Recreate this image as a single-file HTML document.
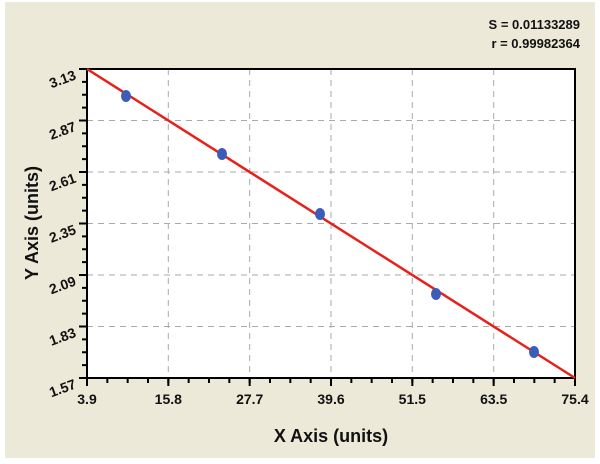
<!DOCTYPE html>
<html><head><style>
body{margin:0;background:#fff;}
svg{display:block;font-family:"Liberation Sans",Arial,sans-serif;font-weight:bold;}
</style></head><body>
<svg width="600" height="464" xmlns="http://www.w3.org/2000/svg">
<rect x="5" y="2" width="590" height="456" fill="#ECE9D8"/>
<rect x="87" y="69" width="488" height="309" fill="#fff"/>
<g stroke="#aaa" stroke-width="1" stroke-dasharray="6,5">
<line x1="168.3" y1="69" x2="168.3" y2="378"/>
<line x1="249.7" y1="69" x2="249.7" y2="378"/>
<line x1="331" y1="69" x2="331" y2="378"/>
<line x1="412.3" y1="69" x2="412.3" y2="378"/>
<line x1="493.7" y1="69" x2="493.7" y2="378"/>
<line x1="87" y1="120.5" x2="575" y2="120.5"/>
<line x1="87" y1="172" x2="575" y2="172"/>
<line x1="87" y1="223.5" x2="575" y2="223.5"/>
<line x1="87" y1="275" x2="575" y2="275"/>
<line x1="87" y1="326.5" x2="575" y2="326.5"/>
</g>
<rect x="87" y="69" width="488" height="309" fill="none" stroke="#000" stroke-width="2"/>
<!-- x ticks -->
<line x1="86" y1="380.5" x2="578" y2="380.5" stroke="#000" stroke-width="5" stroke-dasharray="2 18.333"/>
<line x1="86" y1="382" x2="578" y2="382" stroke="#000" stroke-width="8" stroke-dasharray="2 79.333"/>
<!-- y ticks -->
<line x1="84.5" y1="68" x2="84.5" y2="381" stroke="#000" stroke-width="5" stroke-dasharray="2 10.875"/>
<line x1="83" y1="68" x2="83" y2="381" stroke="#000" stroke-width="8" stroke-dasharray="2 49.5"/>
<g font-size="14" fill="#111" text-anchor="middle">
<text x="87" y="404">3.9</text><text x="168.3" y="404">15.8</text><text x="249.7" y="404">27.7</text>
<text x="331" y="404">39.6</text><text x="412.3" y="404">51.5</text><text x="493.7" y="404">63.5</text><text x="575" y="404">75.4</text>
</g>
<g font-size="14" fill="#111" text-anchor="end">
<text transform="translate(77,79) rotate(-20)">3.13</text>
<text transform="translate(77,130.5) rotate(-20)">2.87</text>
<text transform="translate(77,182) rotate(-20)">2.61</text>
<text transform="translate(77,233.5) rotate(-20)">2.35</text>
<text transform="translate(77,285) rotate(-20)">2.09</text>
<text transform="translate(77,336.5) rotate(-20)">1.83</text>
<text transform="translate(77,388) rotate(-20)">1.57</text>
</g>
<text x="331" y="442" font-size="18" text-anchor="middle" fill="#111">X Axis (units)</text>
<text transform="translate(38,223) rotate(-90)" font-size="18" text-anchor="middle" fill="#111">Y Axis (units)</text>
<text x="580" y="29" font-size="13" text-anchor="end" fill="#111">S = 0.01133289</text>
<text x="580" y="48" font-size="13" text-anchor="end" fill="#111">r = 0.99982364</text>
<line x1="87" y1="69" x2="575" y2="378" stroke="#e8201a" stroke-width="2.5"/>
<g fill="#3b5cb8">
<ellipse cx="126" cy="96" rx="5" ry="6"/><ellipse cx="222" cy="154" rx="5" ry="6"/>
<ellipse cx="320" cy="214" rx="5" ry="6"/><ellipse cx="436" cy="294" rx="5" ry="6"/>
<ellipse cx="534" cy="352" rx="5" ry="6"/>
</g>
</svg>
</body></html>
